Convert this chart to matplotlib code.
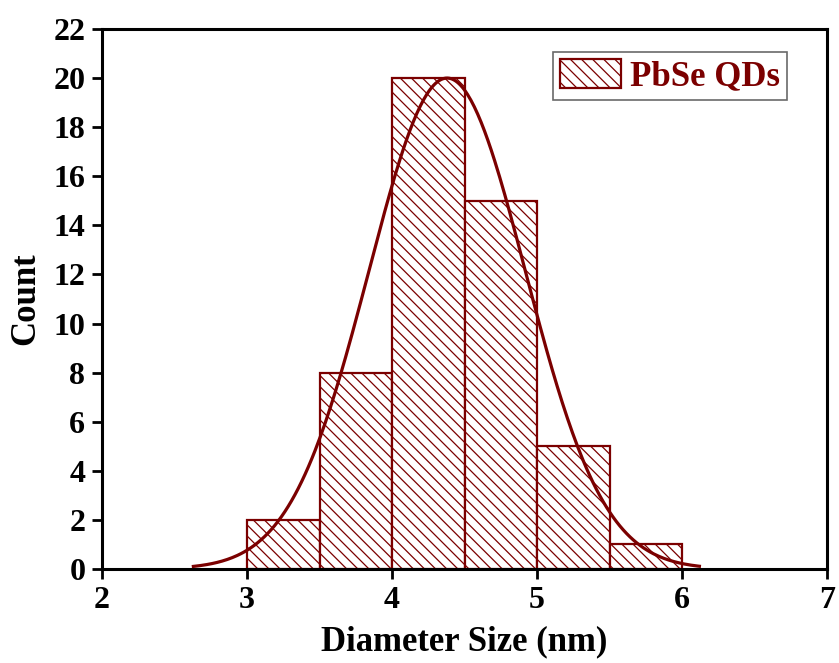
import numpy as np
import matplotlib
matplotlib.use("Agg")
import matplotlib.pyplot as plt

# =========================
# data
# =========================
bin_left = [3.0, 3.5, 4.0, 4.5, 5.0, 5.5]
counts = [2, 8, 20, 15, 5, 1]
bin_width = 0.5

# gaussian fit of the histogram
fit_mu = 4.38
fit_sigma = 0.54
fit_amp = 20.0
fit_range = (2.63, 6.12)

x_ticks = [2, 3, 4, 5, 6, 7]
y_ticks = list(range(0, 23, 2))

RED = "#7b0000"

plt.rcParams["font.family"] = ["Liberation Serif", "DejaVu Serif"]
plt.rcParams["font.weight"] = "bold"
plt.rcParams["hatch.linewidth"] = 0.9
plt.rcParams["hatch.color"] = RED

fig = plt.figure(figsize=(8.39, 6.63), dpi=100)
ax = fig.add_axes([0.1216, 0.1418, 0.8641, 0.8145])

ax.bar(bin_left, counts, width=bin_width, align="edge", facecolor="white",
       edgecolor=RED, linewidth=1.6, hatch="\\\\\\", label="PbSe QDs", zorder=2)

xs = np.linspace(fit_range[0], fit_range[1], 300)
ys = fit_amp * np.exp(-(xs - fit_mu) ** 2 / (2 * fit_sigma ** 2))
ax.plot(xs, ys, color=RED, linewidth=2.3, zorder=3)

ax.set_xlim(2, 7)
ax.set_ylim(0, 22)
ax.set_xticks(x_ticks)
ax.set_yticks(y_ticks)
ax.tick_params(direction="out", length=7, width=2, labelsize=23, pad=5)
for lab in ax.get_xticklabels() + ax.get_yticklabels():
    lab.set_fontweight("bold")
for sp in ax.spines.values():
    sp.set_linewidth(2.2)

ax.set_xlabel("Diameter Size (nm)", fontsize=25, fontweight="bold", labelpad=8)
ax.set_ylabel("Count", fontsize=25, fontweight="bold", labelpad=8)

leg = ax.legend(loc="upper right", bbox_to_anchor=(0.945, 0.957), borderaxespad=0,
                fontsize=25, frameon=True, fancybox=False,
                edgecolor="#444444", handlelength=1.75, handleheight=0.9,
                borderpad=0.2, handletextpad=0.26)
for t in leg.get_texts():
    t.set_color(RED)
    t.set_fontweight("bold")
leg.get_frame().set_linewidth(1.2)

fig.savefig("out.png", dpi=100)
